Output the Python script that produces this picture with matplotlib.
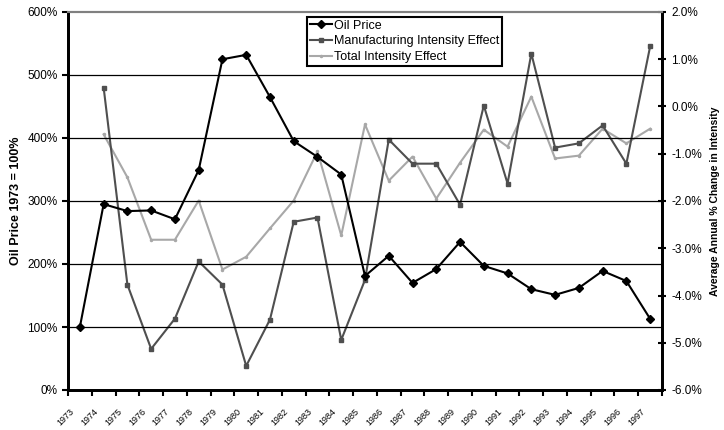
'''Line chart of oil price index against intensity effects, 1973-1997'''

import matplotlib
matplotlib.use("Agg")
import matplotlib.pyplot as plt
import matplotlib.transforms as mtransforms
import numpy as np

plt.rcParams['font.family'] = ['Liberation Sans', 'DejaVu Sans']

# data
years = [str(y) for y in range(1973, 1998)]

# oil price, 1973 = 100 (left axis)
oil_price = [100, 295, 284, 285, 271, 349, 525, 532, 465, 395, 370, 342,
             181, 213, 170, 192, 235, 197, 185, 160, 151, 162, 189, 173, 113]

# average annual % change in intensity (right axis), starts 1974
manuf_effect = [np.nan, 0.40, -3.77, -5.13, -4.49, -3.28, -3.77, -5.49,
                -4.51, -2.44, -2.35, -4.94, -3.67, -0.70, -1.21, -1.21,
                -2.08, 0.02, -1.63, 1.12, -0.87, -0.78, -0.40, -1.21, 1.27]
total_effect = [np.nan, -0.59, -1.50, -2.82, -2.82, -1.99, -3.45, -3.18,
                -2.58, -1.99, -0.95, -2.73, -0.38, -1.57, -1.06, -1.95,
                -1.19, -0.49, -0.85, 0.21, -1.10, -1.04, -0.47, -0.78, -0.47]

left_ticks = [0, 100, 200, 300, 400, 500, 600]
right_ticks = [-6, -5, -4, -3, -2, -1, 0, 1, 2]

fig = plt.figure(figsize=(7.24, 4.30), dpi=100)
ax = fig.add_axes([68 / 724, 40 / 430, 594 / 724, 378 / 430])
ax2 = ax.twinx()

x = np.arange(len(years))

# left axis: oil price
ax.set_xlim(-0.5, len(years) - 0.5)
ax.set_ylim(0, 600)
ax.set_yticks(left_ticks)
ax.set_yticklabels(["{}%".format(t) for t in left_ticks], fontsize=8.5)
for t in left_ticks[1:-1]:
    ax.axhline(t, color='black', linewidth=0.9, zorder=0)

# right axis: intensity effects
ax2.set_ylim(-6, 2)
ax2.set_yticks(right_ticks)
ax2.set_yticklabels(["{:.1f}%".format(t) for t in right_ticks], fontsize=8.5)

l2, = ax2.plot(x, manuf_effect, color='#4f4f4f', linewidth=1.5, marker='s',
               markersize=3, label='Manufacturing Intensity Effect', zorder=3)
l3, = ax2.plot(x, total_effect, color='#a8a8a8', linewidth=1.5, marker='o',
               markersize=1.5, label='Total Intensity Effect', zorder=2)
l1, = ax2.plot([], [], color='black', linewidth=1.5, marker='D',
               markersize=4.5, label='Oil Price')
# oil price drawn on the left scale, but above the other lines
ax.set_zorder(ax2.get_zorder() + 1)
ax.patch.set_visible(False)
ax.plot(x, oil_price, color='black', linewidth=1.5, marker='D',
        markersize=4.5, zorder=4)

# x axis: category boundaries as ticks, labels at centres
ax.set_xticks(x)
ax.set_xticklabels(years, rotation=45, ha='right', va='top',
                   rotation_mode='anchor', fontsize=6.5)
ax.tick_params(axis='x', which='major', length=0, pad=12)
ax.set_xticks(np.arange(-0.5, len(years), 1), minor=True)
ax.tick_params(axis='x', which='minor', length=4, width=1.5, direction='out')
offset = mtransforms.ScaledTranslation(-0.10, 0, fig.dpi_scale_trans)
for lab in ax.get_xticklabels():
    lab.set_transform(lab.get_transform() + offset)

ax.tick_params(axis='y', length=4, width=1.5, direction='out')
ax2.tick_params(axis='y', length=6, width=1.5, direction='inout')

# spines
for a in (ax, ax2):
    a.spines['top'].set_color('#808080')
    a.spines['top'].set_linewidth(1.5)
    a.spines['left'].set_linewidth(2)
    a.spines['right'].set_linewidth(2)
    a.spines['bottom'].set_linewidth(2)

ax.set_ylabel('Oil Price 1973 = 100%', fontsize=9, fontweight='bold',
              labelpad=4)
ax2.set_ylabel('Average Annual % Change in Intensity', fontsize=7.5,
               fontweight='bold', labelpad=6)

leg = ax.legend(handles=[l1, l2, l3], loc='upper left',
                bbox_to_anchor=(0.402, 0.988), fontsize=9, frameon=True,
                fancybox=False, framealpha=1, edgecolor='black',
                handlelength=1.8, handletextpad=0.1, borderpad=0.25,
                labelspacing=0.3, borderaxespad=0)
leg.get_frame().set_linewidth(1.5)

plt.savefig("out.png", dpi=100)
print("Wrote out.png")
